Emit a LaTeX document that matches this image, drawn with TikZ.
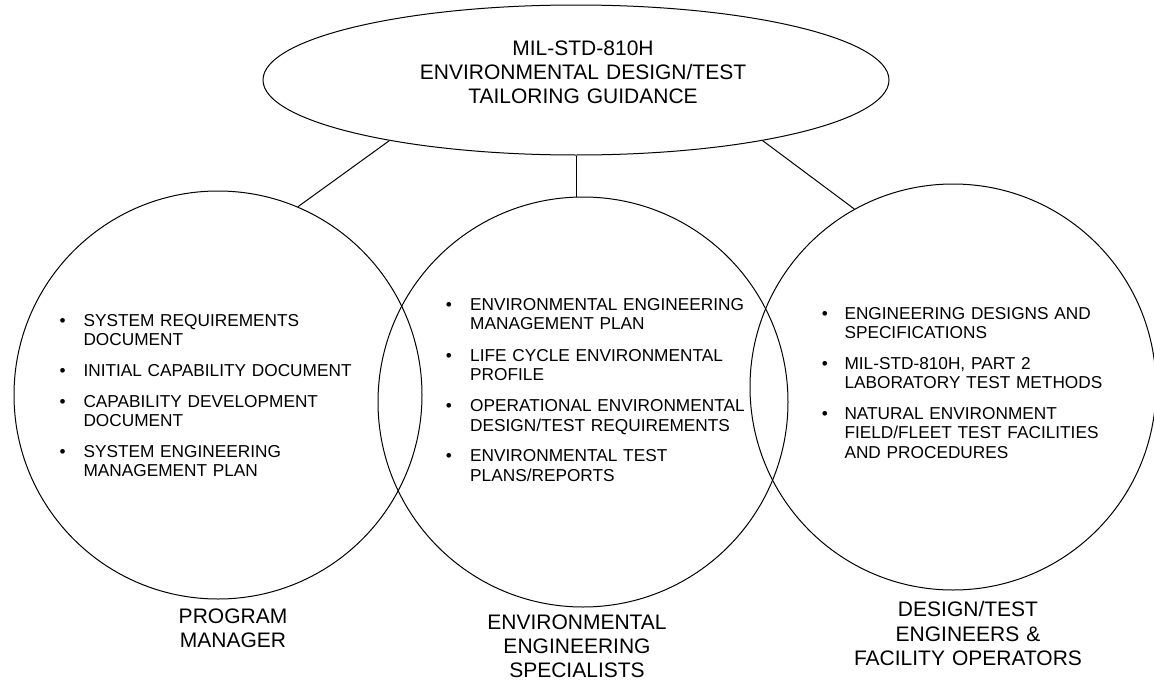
\documentclass[tikz,border=0pt]{standalone}
\usepackage{fontspec}
\setmainfont{Liberation Sans}
\usetikzlibrary{shapes.geometric}
\tikzset{
  ln/.style={line width=1pt, draw=black},
  ring/.style={ln, circle, inner sep=0pt},
  itm/.style={font=\fontsize{17.25}{19.6}\selectfont, inner sep=0pt, anchor=base west, align=left, text width=330pt},
  bul/.style={font=\fontsize{17.25}{19.6}\selectfont, inner sep=0pt, anchor=base},
  lbl/.style={font=\fontsize{21}{24.4}\selectfont, inner sep=0pt, anchor=base, align=center, text width=420pt}
}
\begin{document}
\begin{tikzpicture}[x=1pt, y=-1pt]
\useasboundingbox[fill=white] (0,0) rectangle (1154,680);

% top ellipse
\node[ln, ellipse, minimum width=626pt, minimum height=150pt, inner sep=0pt] (top) at (576,80) {};
\node[lbl] (toptxt) at (583,55) {MIL-STD-810H\\ENVIRONMENTAL DESIGN/TEST\\TAILORING GUIDANCE};

% circles
\node[ring, minimum size=408pt] (pm) at (218,395) {};
\node[ring, minimum size=410pt] (ees) at (583,402) {};
\node[ring, minimum size=406pt] (dte) at (953,387) {};

% connectors
\draw[ln] (top.198.4) -- (pm.67.1);
\draw[ln] (top.south) -- (top.south |- ees.north);
\draw[ln] (top.342.1) -- (dte.119.1);

% left circle items
\node[bul] (b11) at (62.7,326) {\textbullet};
\node[itm] (t11) at (83.3,326) {SYSTEM REQUIREMENTS\\DOCUMENT};
\node[bul] (b12) at (62.7,376) {\textbullet};
\node[itm] (t12) at (83.3,376) {INITIAL CAPABILITY DOCUMENT};
\node[bul] (b13) at (62.7,407.3) {\textbullet};
\node[itm] (t13) at (83.3,407.3) {CAPABILITY DEVELOPMENT\\DOCUMENT};
\node[bul] (b14) at (62.7,457.3) {\textbullet};
\node[itm] (t14) at (83.3,457.3) {SYSTEM ENGINEERING\\MANAGEMENT PLAN};

% middle circle items
\node[bul] (b21) at (449,310) {\textbullet};
\node[itm] (t21) at (470,310) {ENVIRONMENTAL ENGINEERING\\MANAGEMENT PLAN};
\node[bul] (b22) at (449,361) {\textbullet};
\node[itm] (t22) at (470,361) {LIFE CYCLE ENVIRONMENTAL\\PROFILE};
\node[bul] (b23) at (449,411.7) {\textbullet};
\node[itm] (t23) at (470,411.7) {OPERATIONAL ENVIRONMENTAL\\DESIGN/TEST REQUIREMENTS};
\node[bul] (b24) at (449,461.7) {\textbullet};
\node[itm] (t24) at (470,461.7) {ENVIRONMENTAL TEST\\PLANS/REPORTS};

% right circle items
\node[bul] (b31) at (825,319) {\textbullet};
\node[itm] (t31) at (844.3,319) {ENGINEERING DESIGNS AND\\SPECIFICATIONS};
\node[bul] (b32) at (825,369) {\textbullet};
\node[itm] (t32) at (844.3,369) {MIL-STD-810H, PART 2\\LABORATORY TEST METHODS};
\node[bul] (b33) at (825,419) {\textbullet};
\node[itm] (t33) at (844.3,419) {NATURAL ENVIRONMENT\\FIELD/FLEET TEST FACILITIES\\AND PROCEDURES};

% labels
\node[lbl] (pmlbl) at (233,623) {PROGRAM\\MANAGER};
\node[lbl] (eeslbl) at (577,629) {ENVIRONMENTAL\\ENGINEERING\\SPECIALISTS};
\node[lbl] (dtelbl) at (968,616.7) {DESIGN/TEST\\ENGINEERS \&\\FACILITY OPERATORS};
\end{tikzpicture}
\end{document}
